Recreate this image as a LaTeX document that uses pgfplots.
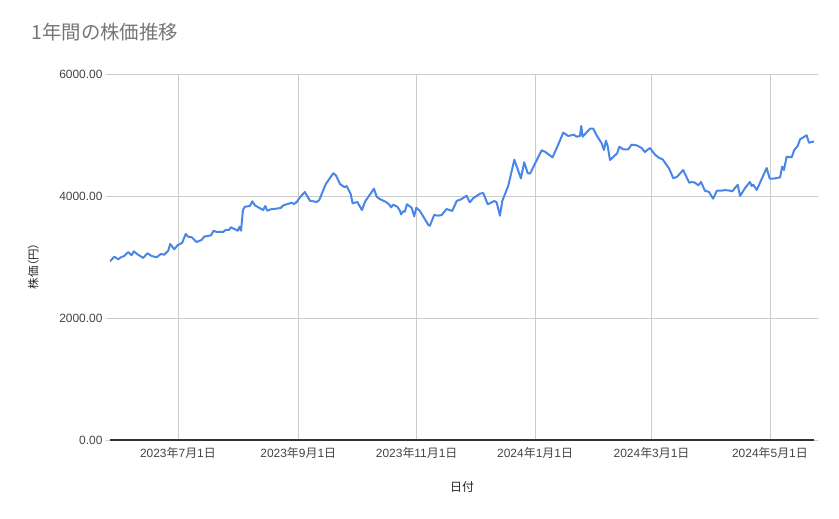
\documentclass[border=0pt]{standalone}
\usepackage{pgfplots}
\pgfplotsset{compat=1.18}
\usepackage{fontspec}
\setmainfont{Liberation Sans}
\newfontfamily\cjk{Noto Sans CJK JP}
\newfontfamily\cjkp[RawFeature={+palt}]{Noto Sans CJK JP}
\definecolor{linecol}{HTML}{4A86E8}
\definecolor{gridcol}{HTML}{CCCCCC}
\definecolor{tickcol}{HTML}{444444}
\definecolor{titlecol}{HTML}{757575}
% date label: year, month, day
\newcommand\jd[3]{#1{\cjk 年}#2{\cjk 月}#3{\cjk 日}}

\begin{document}
\begin{tikzpicture}
\path[use as bounding box] (-110bp,-79bp) rectangle (729bp,440bp);
\begin{axis}[
  at={(0,0)}, anchor=south west,
  scale only axis, width=704bp, height=366bp,
  xmin=-35, xmax=327.7,
  ymin=0, ymax=6000,
  axis line style={draw=none},
  grid=major, grid style={gridcol, line width=0.8bp},
  tick align=outside, major tick length=4bp,
  xtick={0,62,123,184,244,305},
  xticklabels={\jd{2023}{7}{1},\jd{2023}{9}{1},\jd{2023}{11}{1},
               \jd{2024}{1}{1},\jd{2024}{3}{1},\jd{2024}{5}{1}},
  xtick style={draw=none},
  ytick={2000,4000,6000},
  yticklabels={2000.00,4000.00,6000.00},
  ytick style={gridcol, line width=0.8bp},
  extra y ticks={0}, extra y tick labels={0.00},
  extra y tick style={grid style={draw=black!80, line width=1.2bp},
                      tick style={black!80, line width=1.2bp}},
  tick label style={font=\fontsize{12}{14}\selectfont, text=tickcol},
  xlabel={\cjk 日付},
  xlabel style={font=\fontsize{12}{14}\selectfont, text=black!85,
    at={(axis description cs:0.5,-0.128)}, anchor=center},
  ylabel={\cjkp 株価（円）},
  ylabel style={font=\fontsize{11.5}{13}\selectfont, text=black!85,
    at={(axis description cs:-0.109,0.475)}, anchor=center},
  title={\cjk 1年間の株価推移},
  title style={font=\fontsize{19.5}{22}\selectfont, text=titlecol,
    at={(axis description cs:-0.1165,1.098)}, anchor=west},
]
\addplot[linecol, line width=2bp, line join=round] coordinates {
  (-35.0,2929)(-32.8,3005)(-30.8,2962)(-29.4,2995)(-27.7,3016)(-25.6,3082)
  (-23.9,3028)(-22.8,3093)(-20.5,3038)(-17.9,2984)(-15.8,3061)(-13.5,3016)
  (-11.0,2995)(-8.8,3049)(-7.1,3038)(-5.0,3103)(-4.0,3213)(-1.9,3126)
  (-0.2,3192)(2.2,3234)(4.0,3377)(5.3,3333)(7.1,3323)(9.6,3246)
  (12.2,3279)(13.5,3333)(17.0,3356)(18.4,3431)(19.9,3410)(23.3,3410)
  (24.6,3443)(26.3,3443)(27.3,3487)(29.4,3454)(30.8,3431)(31.8,3497)
  (32.5,3431)(33.5,3770)(34.5,3825)(37.1,3836)(38.3,3913)(39.7,3847)
  (41.4,3815)(43.9,3770)(45.0,3836)(46.0,3759)(47.8,3782)(50.5,3792)
  (52.9,3803)(54.3,3847)(58.6,3890)(59.8,3869)(60.8,3890)(61.5,3913)
  (62.9,3979)(65.4,4066)(68.0,3923)(71.5,3902)(72.8,3934)(76.2,4197)
  (80.0,4372)(81.4,4339)(83.5,4197)(85.9,4142)(86.9,4164)(89.0,4033)
  (90.0,3880)(92.4,3902)(94.8,3770)(96.5,3913)(101.0,4120)(102.4,3989)
  (103.7,3956)(107.2,3902)(108.9,3858)(109.9,3815)(110.9,3858)(113.0,3825)
  (114.4,3759)(114.9,3700)(116.3,3754)(116.9,3743)(118.0,3864)(120.4,3808)
  (121.7,3667)(122.8,3808)(124.7,3754)(129.0,3525)(129.8,3513)(132.0,3689)
  (134.1,3677)(135.9,3689)(138.4,3787)(141.3,3754)(143.6,3918)(146.2,3951)
  (148.7,4005)(150.4,3897)(152.1,3962)(155.6,4038)(157.3,4049)(159.6,3864)
  (163.0,3918)(164.2,3897)(165.9,3677)(167.1,3918)(170.2,4169)(173.3,4595)
  (176.7,4290)(178.4,4552)(180.2,4377)(181.4,4366)(187.4,4749)(189.1,4726)
  (193.0,4634)(195.9,4841)(198.5,5038)(201.1,4984)(204.0,5005)(205.4,4972)
  (207.1,4984)(207.8,5147)(208.5,4972)(212.3,5103)(214.0,5103)(215.7,4995)
  (218.3,4864)(219.5,4754)(220.5,4907)(221.4,4820)(222.6,4590)(226.3,4700)
  (227.4,4808)(229.4,4765)(232.0,4765)(233.7,4841)(236.3,4831)(238.9,4787)
  (240.6,4721)(241.8,4754)(243.2,4787)(245.8,4677)(248.0,4623)(249.7,4601)
  (253.1,4448)(255.2,4290)(257.2,4317)(260.3,4426)(263.4,4218)(265.0,4230)
  (266.4,4218)(268.1,4175)(269.5,4230)(271.5,4087)(273.6,4066)(275.7,3956)
  (277.7,4087)(280.1,4087)(281.8,4098)(284.4,4087)(285.6,4077)(288.4,4185)
  (289.6,4000)(292.2,4131)(294.7,4230)(295.6,4164)(296.4,4185)(298.2,4098)
  (303.3,4459)(304.9,4284)(306.7,4284)(310.2,4306)(311.3,4481)(312.2,4426)
  (313.6,4645)(316.2,4634)(317.5,4754)(319.3,4820)(320.5,4929)(323.9,4995)
  (325.1,4874)(326.5,4885)(327.7,4893)
};
\end{axis}
\end{tikzpicture}
\end{document}
